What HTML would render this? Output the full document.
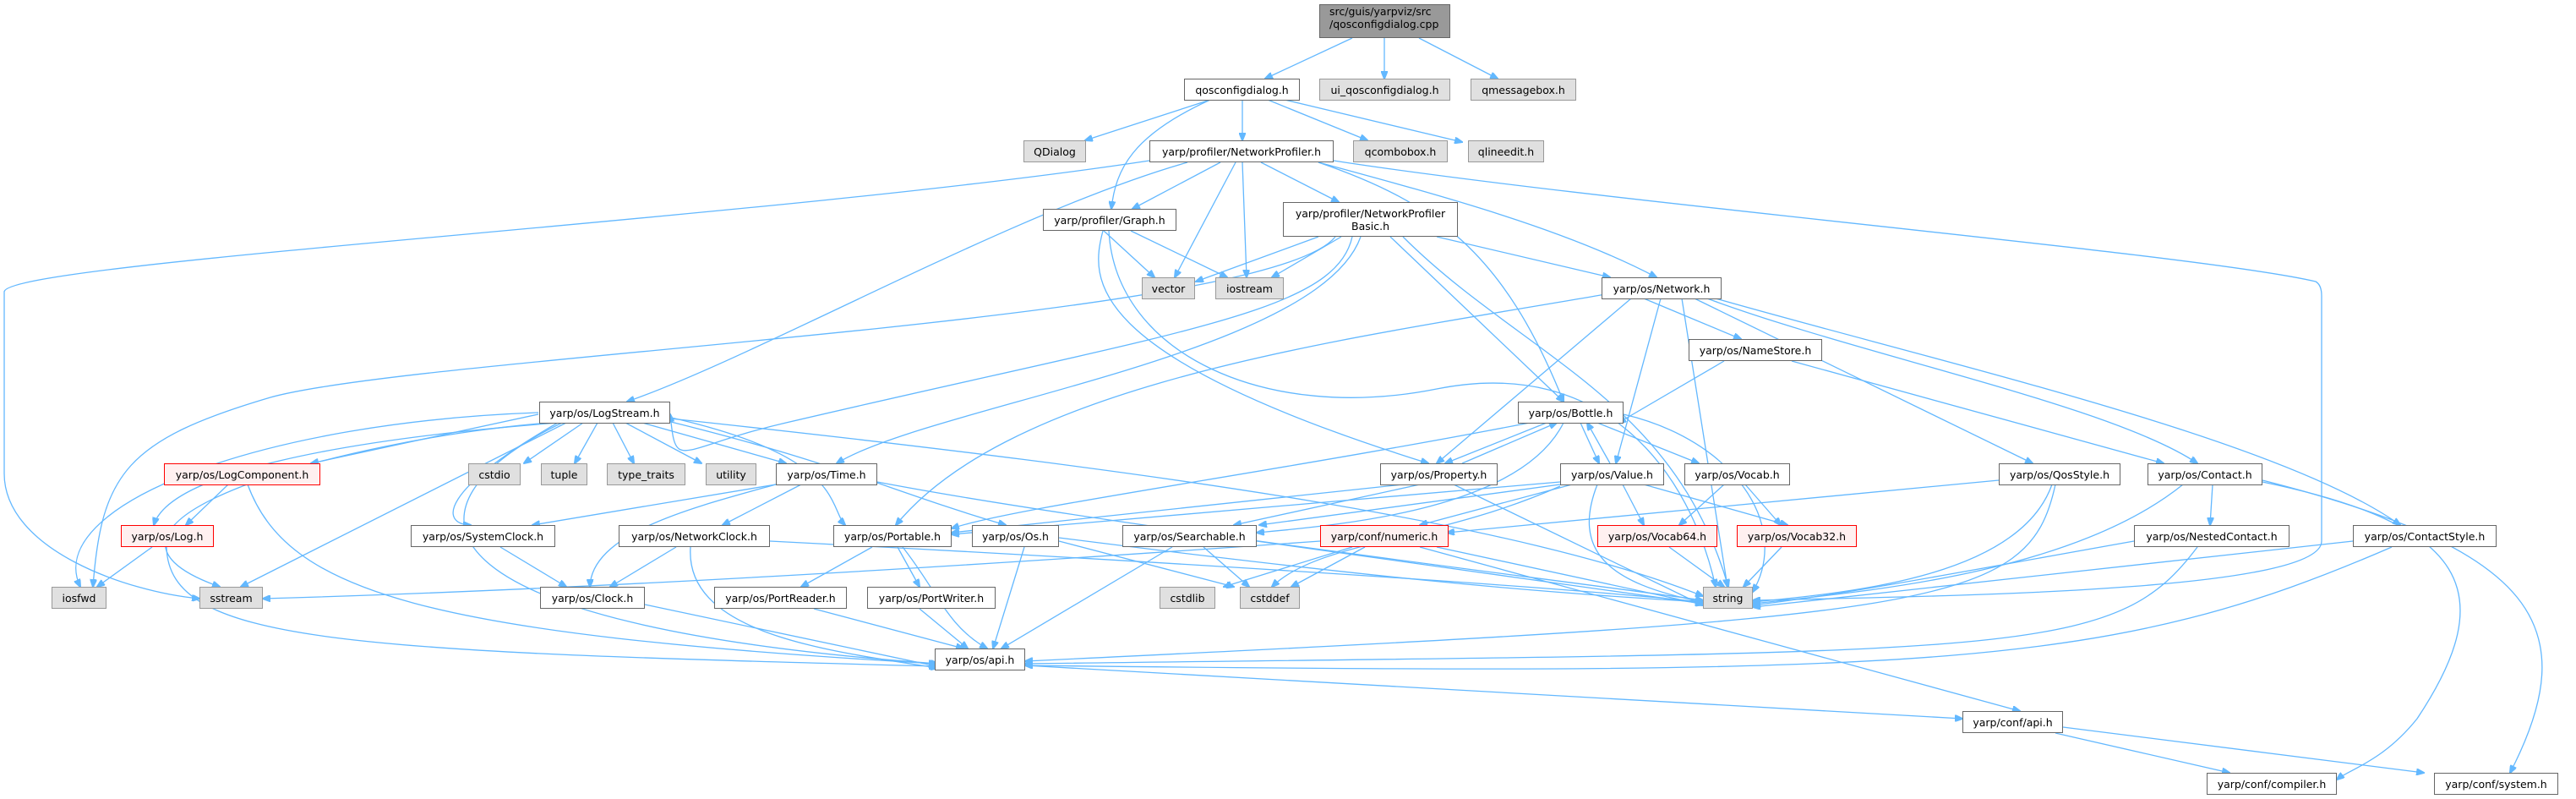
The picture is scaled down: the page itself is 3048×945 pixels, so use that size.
<!DOCTYPE html>
<html><head><meta charset="utf-8"><style>
body{margin:0;background:#fff;width:3048px;height:945px;overflow:hidden;position:relative;font-family:"DejaVu Sans","Liberation Sans",sans-serif}
.n{position:absolute;box-sizing:border-box;border:1.5px solid #666;background:#fff;font-size:12.5px;color:#000;display:flex;align-items:center;justify-content:center;white-space:nowrap;height:26px}
.g{background:#e0e0e0;border-color:#999}
.r{background:#fff0f0;border-color:#f00}
svg{position:absolute;left:0;top:0}
path{fill:none;stroke:#63b8ff;stroke-width:1.3}
</style></head><body>
<svg width="3048" height="945">
<defs><marker id="a" markerWidth="10" markerHeight="8" refX="9" refY="4" orient="auto" markerUnits="userSpaceOnUse"><path d="M0,0 L10,4 L0,8 Z" style="fill:#63b8ff;stroke:#63b8ff"/></marker></defs>
<g marker-end="url(#a)">
<path d="M1600,45 L1497,93"/><path d="M1638,45 L1638,93"/><path d="M1679,45 L1772,93"/>
<path d="M1432,118 L1284,166"/><path d="M1470,118 L1470,166"/><path d="M1500,118 L1618,166"/><path d="M1520,118 L1730,168"/>
<path d="M1432,118 C1340,160 1320,200 1315,247"/>
<path d="M1360,190 C900,260 10,310 5,345 L5,560 C5,650 150,700 236,708"/>
<path d="M1405,192 C1200,250 900,420 742,475"/>
<path d="M1444,192 L1340,247"/><path d="M1462,192 L1390,328"/><path d="M1470,192 L1475,328"/><path d="M1492,192 L1584,239"/>
<path d="M1560,192 C1700,240 1780,300 1850,475"/>
<path d="M1560,192 C1700,230 1850,270 1960,328"/>
<path d="M1578,190 C1900,240 2600,300 2740,333 Q2747,337 2747,350 L2747,640 C2747,700 2300,705 2074,710"/>
<path d="M1306,273 L1366,328"/><path d="M1338,273 L1452,328"/>
<path d="M1305,273 C1290,330 1280,420 1690,548"/>
<path d="M1312,273 C1320,420 1500,500 1700,460 C1900,420 2000,560 2030,694"/>
<path d="M1560,280 L1415,333"/><path d="M1587,280 L1505,328"/><path d="M1700,280 L1905,328"/>
<path d="M1645,280 L1850,475"/><path d="M1660,280 C1800,420 1980,470 2045,694"/>
<path d="M1600,280 C1580,370 1400,390 930,500 C800,530 800,560 793,490"/>
<path d="M1610,280 C1560,420 1100,480 990,548"/>
<path d="M1580,280 C1500,380 500,420 320,470 C150,520 120,560 110,694"/>
<path d="M1945,353 L2060,401"/><path d="M1930,353 L1700,548"/><path d="M1965,353 L1912,548"/>
<path d="M1900,348 C1600,400 1200,450 1060,621"/>
<path d="M2020,353 C2200,420 2500,480 2600,548"/><path d="M2005,353 L2405,548"/>
<path d="M2030,353 C2300,430 2700,520 2840,621"/>
<path d="M1990,353 L2044,694"/>
<path d="M2040,427 L1915,500"/><path d="M2120,427 L2560,548"/>
<path d="M637,490 L368,548"/><path d="M660,500 C400,520 200,560 182,621"/><path d="M637,488 C300,500 50,600 95,694"/><path d="M650,500 C400,520 50,620 260,694"/>
<path d="M690,500 L620,548"/><path d="M707,500 L680,548"/><path d="M725,500 L750,548"/><path d="M740,500 L830,548"/><path d="M760,500 L930,548"/>
<path d="M660,500 C520,580 520,620 557,621"/><path d="M665,500 C460,600 480,740 1110,785"/>
<path d="M670,500 L285,694"/>
<path d="M790,498 C1000,550 1050,580 1190,621"/>
<path d="M793,495 C1400,560 1800,620 2015,705"/>
<path d="M790,493 C1000,540 980,600 1000,621"/>
<path d="M270,573 L220,621"/><path d="M293,573 C340,700 500,750 1108,785"/>
<path d="M180,647 L115,694"/><path d="M197,647 C200,760 400,770 1108,788"/>
<path d="M918,573 L630,621"/><path d="M948,573 L855,621"/><path d="M918,573 C820,600 700,630 698,694"/><path d="M1038,570 C1300,620 1800,680 2015,710"/>
<path d="M592,647 L670,694"/><path d="M800,647 L722,694"/><path d="M817,647 C810,750 980,770 1110,790"/><path d="M911,640 C1300,660 1800,690 2015,712"/>
<path d="M763,715 L1108,788"/><path d="M963,720 L1140,767"/><path d="M1088,720 L1145,767"/>
<path d="M1032,647 L948,694"/><path d="M1062,647 L1088,694"/><path d="M1068,647 C1110,700 1120,740 1168,767"/>
<path d="M1212,647 L1175,767"/><path d="M1253,640 L1460,694"/><path d="M1253,636 C1600,680 1800,700 2015,712"/>
<path d="M1387,647 L1185,767"/><path d="M1424,647 L1478,694"/><path d="M1487,640 L2015,714"/>
<path d="M1600,647 L1448,694"/><path d="M1615,647 L1528,694"/><path d="M1700,647 L2015,715"/><path d="M1680,647 L2390,841"/><path d="M1562,640 C1000,680 600,700 311,708"/>
<path d="M1830,500 L1710,548"/><path d="M1870,500 L1892,548"/><path d="M1890,500 L2010,548"/>
<path d="M1810,500 C1500,560 1200,600 1126,625"/><path d="M1850,500 C1800,600 1600,620 1487,630"/>
<path d="M1921,490 C2050,520 2120,620 2074,700"/>
<path d="M1730,548 L1842,500"/><path d="M1660,573 L1126,630"/><path d="M1680,573 L1460,621"/><path d="M1720,573 L2015,716"/>
<path d="M1905,548 L1878,500"/><path d="M1846,570 L1126,632"/><path d="M1846,573 L1490,621"/><path d="M1860,573 L1680,621"/>
<path d="M1920,573 L1945,621"/><path d="M1945,573 L2115,621"/><path d="M1890,573 C1860,650 1900,690 2015,712"/><path d="M1846,575 C1700,640 1560,640 1505,694"/>
<path d="M2040,573 L1987,621"/><path d="M2065,573 L2107,621"/>
<path d="M1975,647 L2040,694"/><path d="M2108,647 L2063,694"/>
<path d="M2365,568 L1712,630"/><path d="M2428,573 C2390,680 2200,700 2074,712"/><path d="M2432,573 C2400,720 2300,730 1213,782"/>
<path d="M2618,573 L2615,621"/><path d="M2583,573 C2450,680 2200,700 2074,714"/>
<path d="M2677,570 C2920,620 2960,700 2860,850 C2820,900 2780,910 2765,922"/>
<path d="M2677,568 C3000,650 3060,740 2970,914"/>
<path d="M2525,640 C2300,680 2200,700 2074,716"/><path d="M2600,647 C2500,780 2400,770 1213,785"/>
<path d="M2784,640 L2074,718"/><path d="M2830,647 C2500,790 2300,800 1213,787"/>
<path d="M1213,787 L2322,850"/>
<path d="M2432,867 L2638,914"/><path d="M2441,860 L2868,914"/>
</g>
</svg>
<div class="n" style="left:1561px;top:5px;width:155px;height:40px;background:#999;border-color:#666;justify-content:flex-start;padding-left:11px;line-height:15px;font-size:12.5px;flex-direction:column;align-items:flex-start">src/guis/yarpviz/src<br>/qosconfigdialog.cpp</div>
<div class="n" style="left:1401px;top:93px;width:137px">qosconfigdialog.h</div>
<div class="n g" style="left:1561px;top:93px;width:155px">ui_qosconfigdialog.h</div>
<div class="n g" style="left:1740px;top:93px;width:125px">qmessagebox.h</div>
<div class="n g" style="left:1211px;top:166px;width:74px">QDialog</div>
<div class="n" style="left:1360px;top:166px;width:218px">yarp/profiler/NetworkProfiler.h</div>
<div class="n g" style="left:1601px;top:166px;width:112px">qcombobox.h</div>
<div class="n g" style="left:1737px;top:166px;width:90px">qlineedit.h</div>
<div class="n" style="left:1234px;top:247px;width:158px">yarp/profiler/Graph.h</div>
<div class="n" style="left:1518px;top:239px;width:207px;height:41px;text-align:center;line-height:15px">yarp/profiler/NetworkProfiler<br>Basic.h</div>
<div class="n g" style="left:1351px;top:328px;width:63px">vector</div>
<div class="n g" style="left:1438px;top:328px;width:81px">iostream</div>
<div class="n" style="left:1895px;top:328px;width:142px">yarp/os/Network.h</div>
<div class="n" style="left:1998px;top:401px;width:158px">yarp/os/NameStore.h</div>
<div class="n" style="left:638px;top:475px;width:155px">yarp/os/LogStream.h</div>
<div class="n" style="left:1796px;top:475px;width:125px">yarp/os/Bottle.h</div>
<div class="n r" style="left:194px;top:548px;width:185px">yarp/os/LogComponent.h</div>
<div class="n g" style="left:554px;top:548px;width:62px">cstdio</div>
<div class="n g" style="left:640px;top:548px;width:55px">tuple</div>
<div class="n g" style="left:718px;top:548px;width:93px">type_traits</div>
<div class="n g" style="left:835px;top:548px;width:60px">utility</div>
<div class="n" style="left:918px;top:548px;width:120px">yarp/os/Time.h</div>
<div class="n" style="left:1633px;top:548px;width:139px">yarp/os/Property.h</div>
<div class="n" style="left:1846px;top:548px;width:123px">yarp/os/Value.h</div>
<div class="n" style="left:1993px;top:548px;width:125px">yarp/os/Vocab.h</div>
<div class="n" style="left:2365px;top:548px;width:144px">yarp/os/QosStyle.h</div>
<div class="n" style="left:2541px;top:548px;width:136px">yarp/os/Contact.h</div>
<div class="n r" style="left:143px;top:621px;width:110px">yarp/os/Log.h</div>
<div class="n" style="left:486px;top:621px;width:171px">yarp/os/SystemClock.h</div>
<div class="n" style="left:732px;top:621px;width:179px">yarp/os/NetworkClock.h</div>
<div class="n" style="left:986px;top:621px;width:140px">yarp/os/Portable.h</div>
<div class="n" style="left:1150px;top:621px;width:103px">yarp/os/Os.h</div>
<div class="n" style="left:1328px;top:621px;width:159px">yarp/os/Searchable.h</div>
<div class="n r" style="left:1562px;top:621px;width:152px">yarp/conf/numeric.h</div>
<div class="n r" style="left:1890px;top:621px;width:142px">yarp/os/Vocab64.h</div>
<div class="n r" style="left:2055px;top:621px;width:142px">yarp/os/Vocab32.h</div>
<div class="n" style="left:2525px;top:621px;width:184px">yarp/os/NestedContact.h</div>
<div class="n" style="left:2784px;top:621px;width:170px">yarp/os/ContactStyle.h</div>
<div class="n g" style="left:61px;top:694px;width:65px">iosfwd</div>
<div class="n g" style="left:236px;top:694px;width:75px">sstream</div>
<div class="n" style="left:639px;top:694px;width:124px">yarp/os/Clock.h</div>
<div class="n" style="left:845px;top:694px;width:157px">yarp/os/PortReader.h</div>
<div class="n" style="left:1026px;top:694px;width:152px">yarp/os/PortWriter.h</div>
<div class="n g" style="left:1372px;top:694px;width:66px">cstdlib</div>
<div class="n g" style="left:1467px;top:694px;width:71px">cstddef</div>
<div class="n g" style="left:2015px;top:694px;width:59px">string</div>
<div class="n" style="left:1106px;top:767px;width:107px">yarp/os/api.h</div>
<div class="n" style="left:2322px;top:841px;width:119px">yarp/conf/api.h</div>
<div class="n" style="left:2611px;top:914px;width:154px">yarp/conf/compiler.h</div>
<div class="n" style="left:2880px;top:914px;width:147px">yarp/conf/system.h</div>
</body></html>
